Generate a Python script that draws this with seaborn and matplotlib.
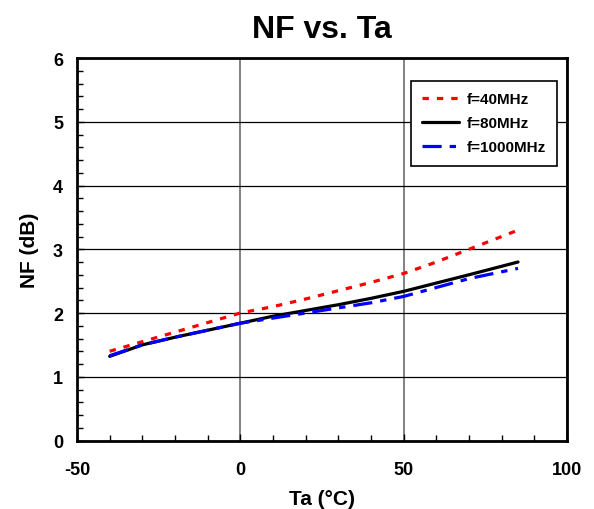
import matplotlib
matplotlib.use("Agg")
import matplotlib.pyplot as plt
import seaborn as sns
import pandas as pd
from matplotlib.ticker import MultipleLocator

ta = [-40, -30, -20, -10, 0, 10, 20, 30, 40, 50, 60, 70, 85]
nf_40 = [1.40, 1.55, 1.70, 1.85, 2.00, 2.10, 2.22, 2.35, 2.48, 2.62, 2.80, 3.00, 3.30]
nf_80 = [1.32, 1.50, 1.62, 1.73, 1.84, 1.95, 2.04, 2.13, 2.23, 2.34, 2.47, 2.60, 2.80]
nf_1000 = [1.33, 1.50, 1.62, 1.73, 1.84, 1.92, 2.00, 2.08, 2.16, 2.26, 2.40, 2.54, 2.70]
labels = ["f=40MHz", "f=80MHz", "f=1000MHz"]
title = "NF vs. Ta"
xlabel = "Ta (°C)"
ylabel = "NF (dB)"

sns.set_style("white")
plt.rcParams['font.family'] = ['Liberation Sans', 'DejaVu Sans']
plt.rcParams['axes.unicode_minus'] = False
plt.rcParams['text.color'] = 'black'
plt.rcParams['axes.labelcolor'] = 'black'
plt.rcParams['xtick.color'] = 'black'
plt.rcParams['ytick.color'] = 'black'

df = pd.DataFrame({
    "Ta": ta * 3,
    "NF": nf_40 + nf_80 + nf_1000,
    "series": [labels[0]] * len(ta) + [labels[1]] * len(ta) + [labels[2]] * len(ta),
})

fig = plt.figure(figsize=(5.94, 5.10), dpi=100)
ax = fig.add_axes([0.1296, 0.1343, 0.825, 0.7500])

palette = {labels[0]: "#ff0000", labels[1]: "#000000", labels[2]: "#0000ff"}
sns.lineplot(data=df, x="Ta", y="NF", hue="series", palette=palette, ax=ax,
             linewidth=2.3, legend=False)
styles = [(0, (2.0, 2.5)), "-", (0, (6, 2.5, 2, 2.5))]
for line, ls in zip(ax.lines, styles):
    line.set_linestyle(ls)

ax.set_xlim(-50, 100)
ax.set_ylim(0, 6)
ax.xaxis.set_major_locator(MultipleLocator(50))
ax.xaxis.set_minor_locator(MultipleLocator(10))
ax.yaxis.set_major_locator(MultipleLocator(1))
ax.yaxis.set_minor_locator(MultipleLocator(0.2))
ax.tick_params(which="both", direction="in", left=True, bottom=True)
ax.tick_params(axis="x", which="major", length=5, width=1, labelsize=13, pad=15)
ax.tick_params(axis="y", which="major", length=5, width=1, labelsize=13, pad=10)
ax.tick_params(which="minor", length=4, width=1)
for lab in ax.get_xticklabels() + ax.get_yticklabels():
    lab.set_fontweight("bold")

ax.grid(False)
ax.yaxis.grid(True, which="major", color="#000000", linewidth=0.9)
ax.xaxis.grid(True, which="major", color="#606060", linewidth=1.1)
ax.set_axisbelow(True)
for s in ax.spines.values():
    s.set_visible(True)
    s.set_color("black")
    s.set_linewidth(2)

ax.set_xlabel(xlabel, fontsize=15, fontweight="bold", labelpad=8)
ax.set_ylabel(ylabel, fontsize=15, fontweight="bold", labelpad=10)
ax.set_title(title, fontsize=23, fontweight="bold", pad=15)

leg = ax.legend(ax.lines, labels, loc="upper right", bbox_to_anchor=(0.98, 0.94),
                borderaxespad=0,
                frameon=True, fancybox=False, edgecolor="black", framealpha=1,
                prop={"weight": "bold", "size": 11}, handlelength=2.4,
                borderpad=0.75, labelspacing=0.65, handletextpad=0.5)
leg.get_frame().set_linewidth(1.2)

fig.savefig("out.png", dpi=100)
